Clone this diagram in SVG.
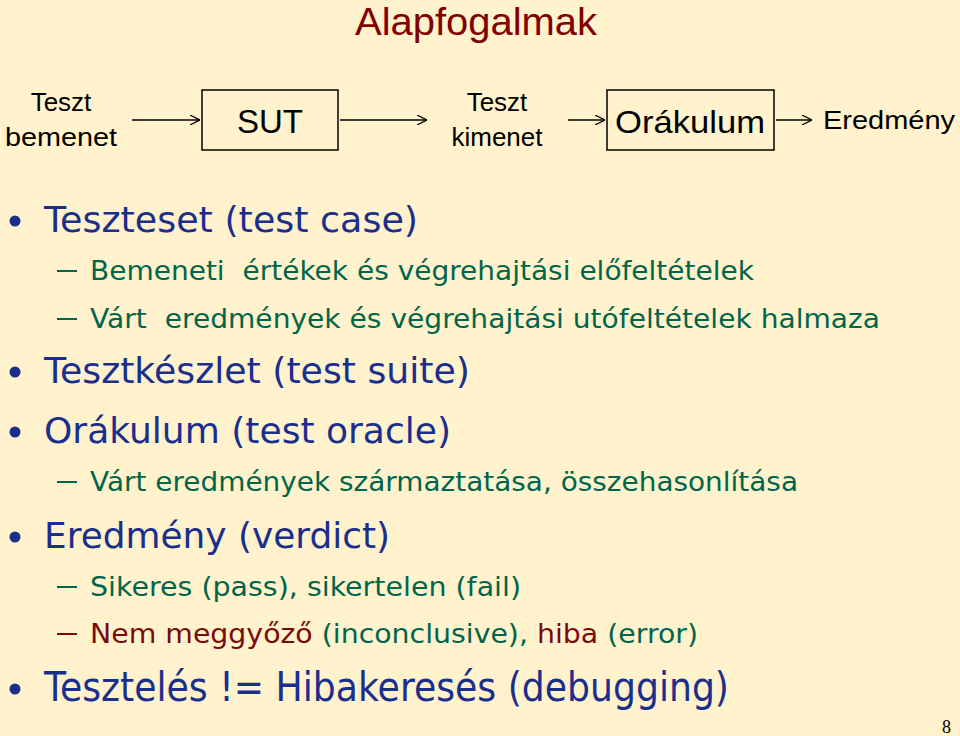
<svg xmlns="http://www.w3.org/2000/svg" width="960" height="736" viewBox="0 0 960 736">
<defs>
<marker id="ah" viewBox="0 0 10 10" refX="10" refY="5" markerWidth="10" markerHeight="10" markerUnits="userSpaceOnUse" orient="auto"><path d="M0,0 L10,5 L0,10" fill="none" stroke="#000" stroke-width="1.2"/></marker>
<style>
.a{font-family:"Liberation Sans",Arial,sans-serif;fill:#000}
.t{font-family:"DejaVu Sans",Verdana,sans-serif}
.b{fill:#1a2e8c}
.g{fill:#00664b}
.r{fill:#7a0a0a}
.dg{stroke:#00664b;stroke-width:2}
.dr{stroke:#7a0a0a;stroke-width:2}
.box{fill:none;stroke:#000;stroke-width:1.5}
.ln{stroke:#000;stroke-width:1.3;fill:none;marker-end:url(#ah)}
</style>
</defs>
<rect width="960" height="736" fill="#fff2cc"/>
<text x="476" y="35" text-anchor="middle" font-size="38" fill="#800000" font-family="Liberation Sans,Arial,sans-serif" textLength="242" lengthAdjust="spacingAndGlyphs">Alapfogalmak</text>
<g id="in"><text class="a" font-size="26" text-anchor="middle"><tspan x="61" y="111">Teszt</tspan><tspan x="61" y="146" textLength="112" lengthAdjust="spacingAndGlyphs">bemenet</tspan></text></g>
<g id="sut"><rect class="box" x="202" y="90" width="136" height="60"/><text class="a" x="270" y="133" font-size="33" text-anchor="middle">SUT</text></g>
<g id="out"><text class="a" font-size="26" text-anchor="middle"><tspan x="497" y="111">Teszt</tspan><tspan x="497" y="146">kimenet</tspan></text></g>
<g id="or"><rect class="box" x="607" y="90" width="167" height="60"/><text class="a" x="690" y="133" font-size="32" text-anchor="middle" textLength="150" lengthAdjust="spacingAndGlyphs">Orákulum</text></g>
<g id="res"><text class="a" x="823" y="129" font-size="26" textLength="132" lengthAdjust="spacingAndGlyphs">Eredmény</text></g>
<g id="conn">
<line class="ln" x1="132" y1="120" x2="200" y2="120"/>
<line class="ln" x1="340" y1="120" x2="427" y2="120"/>
<line class="ln" x1="568" y1="120" x2="605" y2="120"/>
<line class="ln" x1="776" y1="120" x2="812" y2="120"/>
</g>
<g class="t">
<circle cx="15" cy="221" r="5.5" class="b"/>
<text x="44" y="232" font-size="36" class="b" textLength="374" lengthAdjust="spacingAndGlyphs">Teszteset (test case)</text>
<line x1="57" y1="271" x2="77" y2="271" class="dg"/>
<text x="90" y="280" font-size="26" class="g" textLength="664" lengthAdjust="spacingAndGlyphs" xml:space="preserve">Bemeneti  értékek és végrehajtási előfeltételek</text>
<line x1="57" y1="319" x2="77" y2="319" class="dg"/>
<text x="90" y="328" font-size="26" class="g" textLength="790" lengthAdjust="spacingAndGlyphs" xml:space="preserve">Várt  eredmények és végrehajtási utófeltételek halmaza</text>
<circle cx="15" cy="372" r="5.5" class="b"/>
<text x="44" y="383" font-size="36" class="b" textLength="426" lengthAdjust="spacingAndGlyphs">Tesztkészlet (test suite)</text>
<circle cx="15" cy="432" r="5.5" class="b"/>
<text x="44" y="443" font-size="36" class="b" textLength="407" lengthAdjust="spacingAndGlyphs">Orákulum (test oracle)</text>
<line x1="57" y1="482" x2="77" y2="482" class="dg"/>
<text x="90" y="491" font-size="26" class="g" textLength="708" lengthAdjust="spacingAndGlyphs">Várt eredmények származtatása, összehasonlítása</text>
<circle cx="15" cy="537" r="5.5" class="b"/>
<text x="44" y="548" font-size="36" class="b" textLength="346" lengthAdjust="spacingAndGlyphs">Eredmény (verdict)</text>
<line x1="57" y1="587" x2="77" y2="587" class="dg"/>
<text x="90" y="596" font-size="26" class="g" textLength="431" lengthAdjust="spacingAndGlyphs">Sikeres (pass), sikertelen (fail)</text>
<line x1="57" y1="634" x2="77" y2="634" class="dr"/>
<text x="90" y="643" font-size="26" textLength="608" lengthAdjust="spacingAndGlyphs"><tspan class="r">Nem meggyőző</tspan><tspan class="g"> (inconclusive), </tspan><tspan class="r">hiba</tspan><tspan class="g"> (error)</tspan></text>
<circle cx="15" cy="689" r="5.5" class="b"/>
<text x="44" y="701" font-size="40" class="b" textLength="685" lengthAdjust="spacingAndGlyphs">Tesztelés != Hibakeresés (debugging)</text>
</g>
<text x="942" y="733" font-size="18" font-family="Liberation Serif,serif">8</text>
</svg>
